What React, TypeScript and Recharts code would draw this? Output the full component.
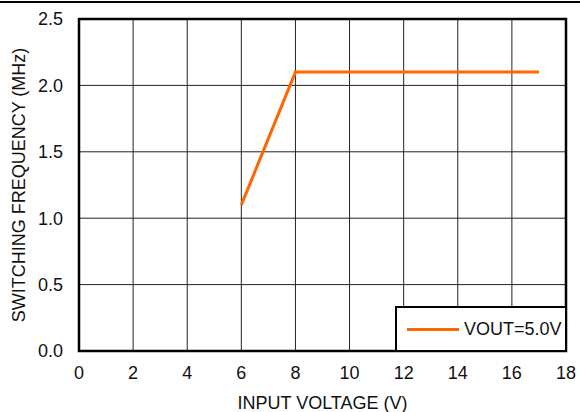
import { LineChart, Line, XAxis, YAxis, CartesianGrid, ReferenceArea } from 'recharts'

const inputVoltage = [6, 8, 17]
const switchingFreq = [1.1, 2.1, 2.1]
const xTicks = [0, 2, 4, 6, 8, 10, 12, 14, 16, 18]
const yTicks = [0, 0.5, 1.0, 1.5, 2.0, 2.5]
const seriesName = 'VOUT=5.0V'

const data = inputVoltage.map((v, i) => ({ vin: v, fsw: switchingFreq[i] }))

const ORANGE = '#ff6600'
const FONT = '"Liberation Sans", Arial, sans-serif'
const FS = 18

// legend box sits on top of the plot, lower right corner
function LegendBox() {
  return (
    <div
      style={{
        position: 'absolute', left: 395, top: 306, width: 168, height: 42,
        border: '2px solid #000', background: '#fff',
        display: 'flex', alignItems: 'center',
      }}
    >
      <div style={{ width: 52, height: 3, background: ORANGE, marginLeft: 10, marginRight: 5 }} />
      <span style={{ fontSize: FS, color: '#111', fontFamily: FONT }}>{seriesName}</span>
    </div>
  )
}

export default function App() {
  return (
    <div style={{ position: 'absolute', left: 0, top: 0, width: 580, height: 412, background: '#fff', fontFamily: FONT }}>
      <div style={{ position: 'absolute', left: 0, top: 1, width: 580, height: 2, background: '#000' }} />
      <LineChart width={580} height={412} data={data} margin={{ top: 19, right: 14, left: 0, bottom: 0 }}>
        <CartesianGrid stroke="#222" strokeWidth={1} />
        <XAxis
          type="number" dataKey="vin" domain={[0, 18]} ticks={xTicks} height={61}
          tickLine={false} axisLine={false} tickSize={0} tickMargin={15}
          tick={{ fill: '#111', fontSize: FS, fontFamily: FONT }}
          label={{ value: 'INPUT VOLTAGE (V)', position: 'insideBottom', offset: 3, fill: '#111', fontSize: FS, fontFamily: FONT }}
        />
        <YAxis
          type="number" domain={[0, 2.5]} ticks={yTicks} width={79}
          tickLine={false} axisLine={false} tickSize={0} tickMargin={16}
          tickFormatter={(v: number) => v.toFixed(1)}
          tick={{ fill: '#111', fontSize: FS, fontFamily: FONT }}
          label={{ value: 'SWITCHING FREQUENCY (MHz)', angle: -90, position: 'insideLeft', offset: 19, fill: '#111', fontSize: FS, fontFamily: FONT, style: { textAnchor: 'middle' } }}
        />
        <ReferenceArea x1={0} x2={18} y1={0} y2={2.5} fill="none" fillOpacity={0} stroke="#000" strokeWidth={2.5} ifOverflow="visible" />
        <Line
          type="linear" dataKey="fsw" name={seriesName} stroke={ORANGE} strokeWidth={3}
          dot={false} activeDot={false} isAnimationActive={false}
        />
      </LineChart>
      <LegendBox />
    </div>
  )
}
